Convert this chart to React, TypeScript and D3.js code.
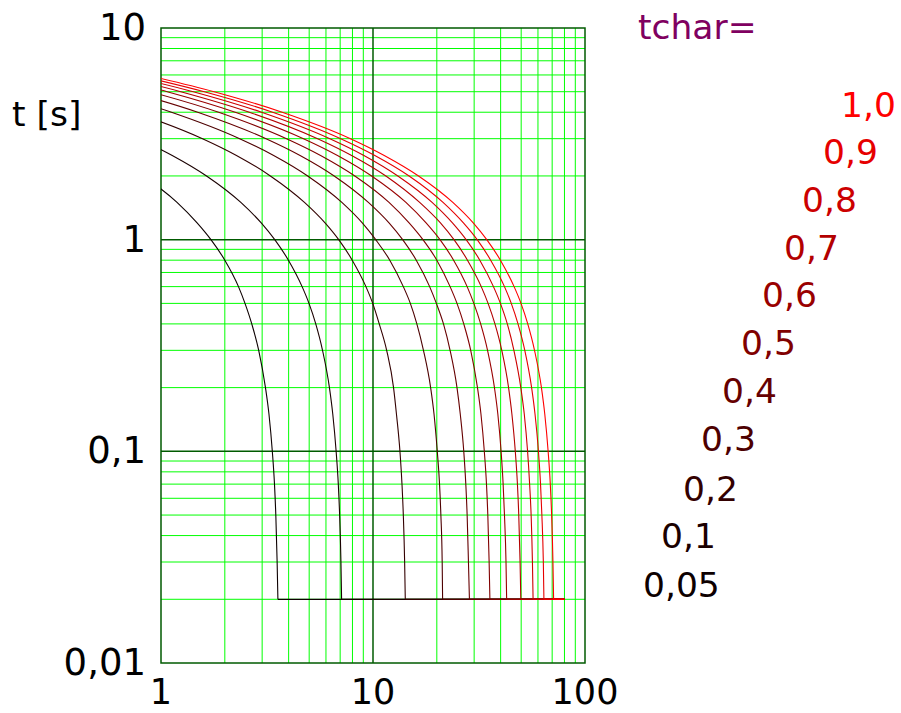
import React from "react";
import * as d3 from "d3";

// ---- data ----
// time levels (s) at which the current of each curve was read
const T_LEVELS = [6, 5, 4, 3, 2.5, 2, 1.5, 1.2, 1, 0.8, 0.6, 0.5, 0.4, 0.3, 0.2, 0.15, 0.1, 0.07, 0.05, 0.03, 0.02];
const TCHAR = [0.05, 0.1, 0.2, 0.3, 0.4, 0.5, 0.6, 0.7, 0.8, 0.9, 1.0];
const TCHAR_LABELS = ["0,05", "0,1", "0,2", "0,3", "0,4", "0,5", "0,6", "0,7", "0,8", "0,9", "1,0"];
// current (x) for each curve at the time levels above
const X_005 = [0.042, 0.089, 0.187, 0.391, 0.566, 0.821, 1.19, 1.48, 1.72, 2.0, 2.32, 2.49, 2.68, 2.89, 3.11, 3.23, 3.35, 3.43, 3.48, 3.53, 3.56];
const X_01 = [0.085, 0.178, 0.373, 0.783, 1.13, 1.64, 2.38, 2.97, 3.44, 3.99, 4.63, 4.99, 5.37, 5.78, 6.23, 6.46, 6.7, 6.86, 6.96, 7.06, 7.11];
const X_02 = [0.17, 0.356, 0.746, 1.57, 2.27, 3.28, 4.75, 5.94, 6.89, 7.98, 9.26, 9.97, 10.7, 11.6, 12.5, 12.9, 13.4, 13.7, 13.9, 14.1, 14.2];
const X_03 = [0.254, 0.533, 1.12, 2.35, 3.4, 4.92, 7.13, 8.9, 10.3, 12.0, 13.9, 15.0, 16.1, 17.3, 18.7, 19.4, 20.1, 20.6, 20.9, 21.2, 21.3];
const X_04 = [0.339, 0.711, 1.49, 3.13, 4.53, 6.56, 9.51, 11.9, 13.8, 16.0, 18.5, 19.9, 21.5, 23.1, 24.9, 25.8, 26.8, 27.4, 27.8, 28.2, 28.5];
const X_05 = [0.424, 0.889, 1.87, 3.91, 5.66, 8.21, 11.9, 14.8, 17.2, 20.0, 23.1, 24.9, 26.8, 28.9, 31.1, 32.3, 33.5, 34.3, 34.8, 35.3, 35.6];
const X_06 = [0.509, 1.07, 2.24, 4.7, 6.8, 9.85, 14.3, 17.8, 20.7, 24.0, 27.8, 29.9, 32.2, 34.7, 37.4, 38.8, 40.2, 41.1, 41.7, 42.4, 42.7];
const X_07 = [0.593, 1.24, 2.61, 5.48, 7.93, 11.5, 16.6, 20.8, 24.1, 27.9, 32.4, 34.9, 37.6, 40.5, 43.6, 45.2, 46.9, 48.0, 48.7, 49.4, 49.8];
const X_08 = [0.678, 1.42, 2.98, 6.26, 9.06, 13.1, 19.0, 23.7, 27.5, 31.9, 37.0, 39.9, 43.0, 46.2, 49.8, 51.7, 53.6, 54.8, 55.7, 56.5, 56.9];
const X_09 = [0.763, 1.6, 3.36, 7.04, 10.2, 14.8, 21.4, 26.7, 31.0, 35.9, 41.7, 44.9, 48.3, 52.0, 56.0, 58.1, 60.3, 61.7, 62.6, 63.6, 64.0];
const X_10 = [0.848, 1.78, 3.73, 7.83, 11.3, 16.4, 23.8, 29.7, 34.4, 39.9, 46.3, 49.9, 53.7, 57.8, 62.3, 64.6, 67.0, 68.6, 69.6, 70.6, 71.1];
const CURVES_X = [X_005, X_01, X_02, X_03, X_04, X_05, X_06, X_07, X_08, X_09, X_10];
const FLOOR_T = 0.02;
const FLOOR_END_X = 80;

const X_TICKS = [1, 10, 100];
const X_TICK_LABELS = ["1", "10", "100"];
const Y_TICKS = [0.01, 0.1, 1, 10];
const Y_TICK_LABELS = ["0,01", "0,1", "1", "10"];

// ---- layout ----
const W = 901, H = 713;
const L = 161, R = 585, T = 28, B = 663;
const LABEL_POS: [number, number][] = [
  [643, 597], [661, 548], [683, 501], [701, 451], [722, 403], [741, 355],
  [762, 307], [784, 260], [802, 212], [823, 164], [841, 117],
];
const FONT = "DejaVu Sans, Verdana, sans-serif";

export default function App() {
  const x = d3.scaleLog().domain([1, 100]).range([L, R]);
  const y = d3.scaleLog().domain([0.01, 10]).range([B, T]);

  const minorX: number[] = [];
  const minorY: number[] = [];
  for (const dec of [1, 10]) for (let k = 2; k <= 9; k++) minorX.push(dec * k);
  for (const dec of [0.01, 0.1, 1]) for (let k = 2; k <= 9; k++) minorY.push(dec * k);

  const colorOf = (tc: number) => `rgb(${Math.round(255 * tc)},0,0)`;

  const line = d3
    .line<[number, number]>()
    .x((d) => x(d[0]))
    .y((d) => y(d[1]))
    .curve(d3.curveMonotoneX);
  const flat = d3
    .line<[number, number]>()
    .x((d) => x(d[0]))
    .y((d) => y(d[1]));

  const minorColor = "#00ff00";
  const majorColor = "#005a00";

  return (
    <svg width={W} height={H} style={{ position: "absolute", left: 0, top: 0, background: "#fff" }}>
      <defs>
        <clipPath id="plotclip">
          <rect x={L} y={T} width={R - L} height={B - T} />
        </clipPath>
      </defs>
      {/* minor grid */}
      {minorX.map((v) => (
        <line key={"mx" + v} x1={x(v)} x2={x(v)} y1={T} y2={B} stroke={minorColor} strokeWidth={1} />
      ))}
      {minorY.map((v) => (
        <line key={"my" + v} x1={L} x2={R} y1={y(v)} y2={y(v)} stroke={minorColor} strokeWidth={1} />
      ))}
      {/* major grid */}
      {[10].map((v) => (
        <line key={"Mx" + v} x1={x(v)} x2={x(v)} y1={T} y2={B} stroke={majorColor} strokeWidth={1.5} />
      ))}
      {[0.1, 1].map((v) => (
        <line key={"My" + v} x1={L} x2={R} y1={y(v)} y2={y(v)} stroke={majorColor} strokeWidth={1.5} />
      ))}
      <rect x={L} y={T} width={R - L} height={B - T} fill="none" stroke={majorColor} strokeWidth={1.5} />

      {/* curves */}
      <g clipPath="url(#plotclip)">
        {CURVES_X.map((xs, i) => {
          const pts: [number, number][] = xs.map((xv, j) => [xv, T_LEVELS[j]]);
          const last = pts[pts.length - 1];
          const c = colorOf(TCHAR[i]);
          return (
            <g key={"c" + i}>
              <path d={line(pts) || ""} fill="none" stroke={c} strokeWidth={1.1} />
              <path d={flat([[last[0], FLOOR_T], [FLOOR_END_X, FLOOR_T]]) || ""} fill="none" stroke={c} strokeWidth={1.3} />
            </g>
          );
        })}
      </g>

      {/* axis labels */}
      <g fontFamily={FONT} fontSize={37} fill="#000">
        {Y_TICKS.map((v, i) => (
          <text key={"yt" + v} x={L - 15} y={y(v) + 12} textAnchor="end">
            {Y_TICK_LABELS[i]}
          </text>
        ))}
        {X_TICKS.map((v, i) => (
          <text key={"xt" + v} x={x(v)} y={704} fontSize={35} textAnchor="middle">
            {X_TICK_LABELS[i]}
          </text>
        ))}
      </g>
      <text x={12} y={126} fontFamily={FONT} fontSize={34.5} fill="#000">
        t [s]
      </text>
      <text x={638} y={39} fontFamily={FONT} fontSize={34.5} fill="#800060">
        tchar=
      </text>
      {TCHAR_LABELS.map((lab, i) => (
        <text key={"lab" + i} x={LABEL_POS[i][0]} y={LABEL_POS[i][1]} fontFamily={FONT} fontSize={34.5} fill={colorOf(TCHAR[i])}>
          {lab}
        </text>
      ))}
    </svg>
  );
}
